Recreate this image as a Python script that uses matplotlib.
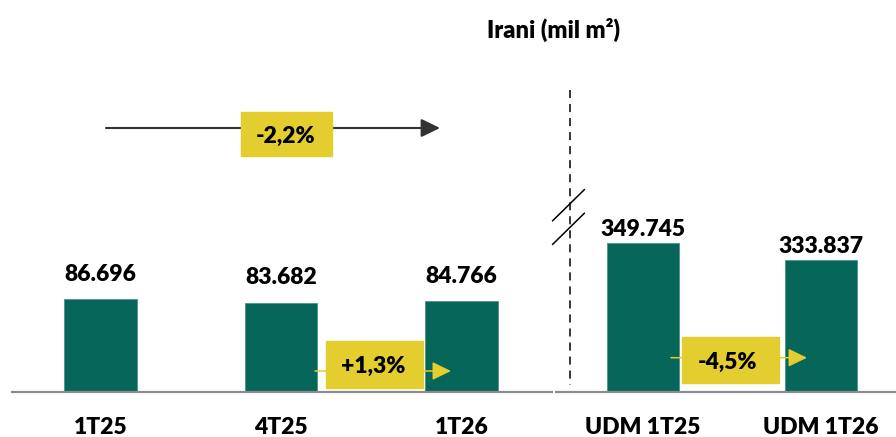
import matplotlib.pyplot as plt
from matplotlib.lines import Line2D
from matplotlib.patches import Rectangle, FancyArrowPatch

# Irani - volumes (mil m²)
quarters = ["1T25", "4T25", "1T26"]
quarter_vals = [86.696, 83.682, 84.766]
ltm = ["UDM 1T25", "UDM 1T26"]
ltm_vals = [349.745, 333.837]

var_year = "-2,2%"
var_qoq = "+1,3%"
var_ltm = "-4,5%"
title = "Irani (mil m²)"

GREEN = "#07665A"
YELLOW = "#E3CD2F"
GREY = "#8C8C8C"
WEIGHT = "heavy"

plt.rcParams["font.family"] = ["Lato", "DejaVu Sans"]
plt.rcParams["lines.scale_dashes"] = False

W, H = 896, 437
fig = plt.figure(figsize=(W / 100, H / 100), dpi=100)


def fx(x):
    return x / W


def fy(y):
    return 1 - y / H


# two panels, the right one has a broken (offset) y axis
ax1 = fig.add_axes([fx(12), fy(392), (552 - 12) / W, 332 / H])
ax2 = fig.add_axes([fx(556), fy(392), (896 - 556) / W, 332 / H])

panels = [
    (ax1, quarters, quarter_vals, (0, 310.6), (-0.49, 2.501), 13),
    (ax2, ltm, ltm_vals, (205.5, 527.5), (-0.489, 1.421), 5),
]
for ax, cats, vals, ylim, xlim, gap in panels:
    x = list(range(len(cats)))
    ax.bar(x, vals, width=0.4, color=GREEN, edgecolor="#4F9389", linewidth=0.6, zorder=2)
    ax.set_ylim(*ylim)
    ax.set_xlim(*xlim)
    ax.set_xticks(x, cats, fontsize=16.5, fontweight=WEIGHT)
    ax.tick_params(axis="x", length=0, pad=18)
    ax.set_yticks([])
    ax.patch.set_alpha(0)
    for s in ["left", "right", "top"]:
        ax.spines[s].set_visible(False)
    ax.spines["bottom"].set_color(GREY)
    ax.spines["bottom"].set_linewidth(1.6)
    for xi, v in zip(x, vals):
        ax.annotate(f"{v:.3f}", (xi, v), xytext=(0, gap), textcoords="offset points",
                    ha="center", va="baseline", fontsize=16.5, fontweight=WEIGHT)

fig.text(fx(553), fy(30), title, ha="center", va="center", fontsize=17, fontweight=WEIGHT)

# dashed separator and break marks
fig.add_artist(Line2D([fx(569.5)] * 2, [fy(90), fy(385)], color="black", lw=1.1,
                      linestyle=(0, (5.8, 4.3))))
for y0 in [220.7, 244.3]:
    fig.add_artist(Line2D([fx(552.7), fx(584.3)], [fy(y0), fy(y0 - 31)], color="black", lw=1.1))


def var_arrow(x0, x1, y, color, box, label, text_xy, lw=1.1):
    fig.add_artist(FancyArrowPatch((fx(x0), fy(y)), (fx(x1), fy(y)), transform=fig.transFigure,
                                   arrowstyle="-|>,head_length=11.5,head_width=5.6",
                                   mutation_scale=1, color=color, lw=lw,
                                   shrinkA=0, shrinkB=0, zorder=3))
    bx0, by0, bx1, by1 = box
    fig.add_artist(Rectangle((fx(bx0), fy(by1)), (bx1 - bx0) / W, (by1 - by0) / H,
                             transform=fig.transFigure, color=YELLOW, zorder=4))
    fig.text(fx(text_xy[0]), fy(text_xy[1]), label, ha="center", va="center",
             fontsize=16.5, fontweight=WEIGHT, zorder=5)


var_arrow(106, 440, 128, "#333333", (241, 112, 332, 156), var_year, (286, 136), lw=1.5)
var_arrow(315, 451, 371, YELLOW, (326, 341, 423, 388), var_qoq, (373, 366))
var_arrow(671, 807, 357.7, YELLOW, (682, 337, 779, 383), var_ltm, (727, 362))

fig.savefig("out.png", dpi=100)
